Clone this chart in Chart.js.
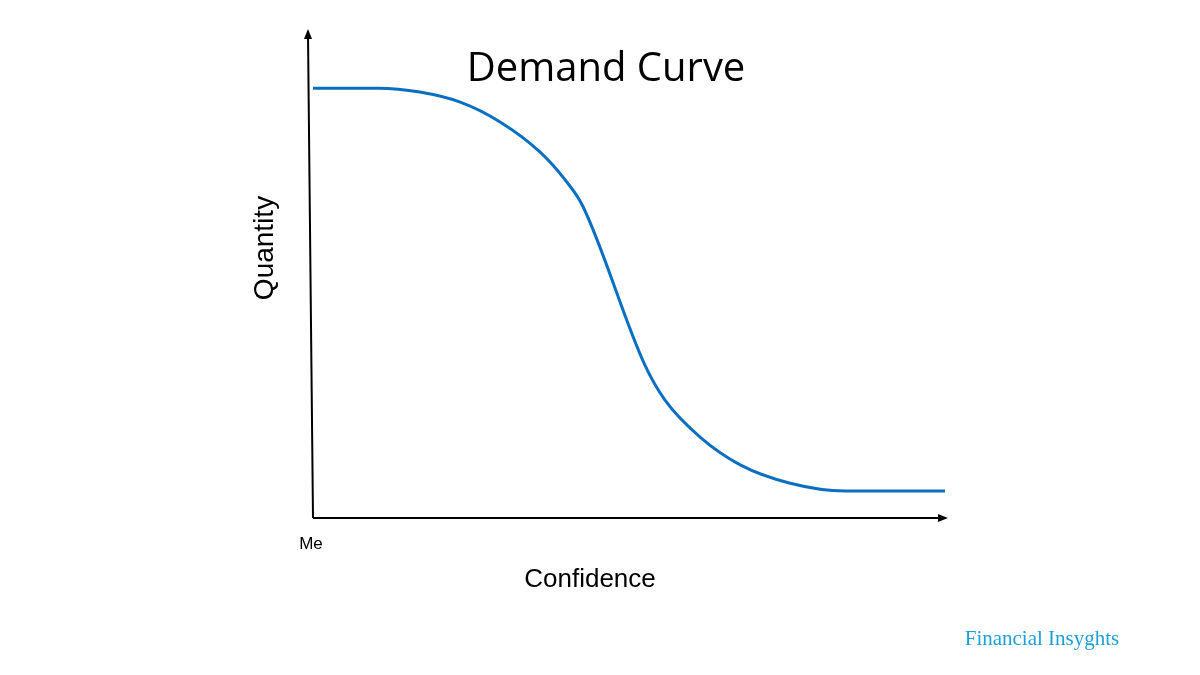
<!DOCTYPE html>
<html>
<head>
<meta charset="utf-8">
<script src="https://cdn.jsdelivr.net/npm/chart.js@4"></script>
<style>body{margin:0;background:#fff}</style>
</head>
<body>
<canvas id="myChart" width="1200" height="675"></canvas>
<script>
// demand curve (0-100 on both axes)
var confidence = [0, 10.3, 16.9, 23.3, 29.6, 35.9, 39.9, 42.6, 52.5, 55.7, 61.2, 67.6, 75.5, 84.2, 100];
var quantity = [89.0, 89.0, 88.2, 86.1, 82.0, 75.8, 70.0, 64.8, 31.7, 24.4, 16.8, 11.0, 7.2, 5.6, 5.6];

var points = confidence.map(function (c, i) { return { x: c, y: quantity[i] }; });

// axes with arrows and the text labels
var decor = {
    id: 'decor',
    afterDraw: function (chart) {
        var ctx = chart.ctx, a = chart.chartArea;
        ctx.save();
        ctx.strokeStyle = '#000';
        ctx.fillStyle = '#000';
        ctx.lineWidth = 2;
        ctx.beginPath();
        ctx.moveTo(a.left, a.bottom);
        ctx.lineTo(a.left - 5, a.top);
        ctx.moveTo(a.left, a.bottom);
        ctx.lineTo(a.right, a.bottom);
        ctx.stroke();
        // arrow heads
        ctx.beginPath();
        ctx.moveTo(a.left - 5, a.top - 6);
        ctx.lineTo(a.left - 9, a.top + 4);
        ctx.lineTo(a.left - 1, a.top + 4);
        ctx.fill();
        ctx.beginPath();
        ctx.moveTo(a.right + 3, a.bottom);
        ctx.lineTo(a.right - 7, a.bottom - 4);
        ctx.lineTo(a.right - 7, a.bottom + 4);
        ctx.fill();

        ctx.textAlign = 'center';
        ctx.textBaseline = 'middle';
        ctx.font = '40px "Open Sans", sans-serif';
        ctx.fillText('Demand Curve', 606, 70);
        ctx.font = '26px "Liberation Sans", Arial, sans-serif';
        ctx.fillText('Confidence', 590, 580);
        ctx.font = '17px "Liberation Sans", Arial, sans-serif';
        ctx.fillText('Me', 311, 544);
        ctx.save();
        ctx.translate(265, 248);
        ctx.rotate(-Math.PI / 2);
        ctx.font = '28px "Liberation Sans", Arial, sans-serif';
        ctx.fillText('Quantity', 0, 0);
        ctx.restore();
        ctx.fillStyle = '#1e9fd9';
        ctx.font = '21px "Liberation Serif", "DejaVu Serif", serif';
        ctx.fillText('Financial Insyghts', 1042, 639);
        ctx.restore();
    }
};

new Chart(document.getElementById('myChart').getContext('2d'), {
    type: 'line',
    data: {
        datasets: [{
            data: points,
            borderColor: '#0a6fc2',
            borderWidth: 3,
            pointRadius: 0,
            cubicInterpolationMode: 'monotone',
            fill: false
        }]
    },
    options: {
        responsive: false,
        animation: false,
        layout: { padding: { left: 313, right: 255, top: 35, bottom: 157 } },
        plugins: { legend: { display: false }, tooltip: { enabled: false } },
        scales: {
            x: { type: 'linear', min: 0, max: 100, display: false },
            y: { min: 0, max: 100, display: false }
        }
    },
    plugins: [decor]
});
</script>
</body>
</html>
